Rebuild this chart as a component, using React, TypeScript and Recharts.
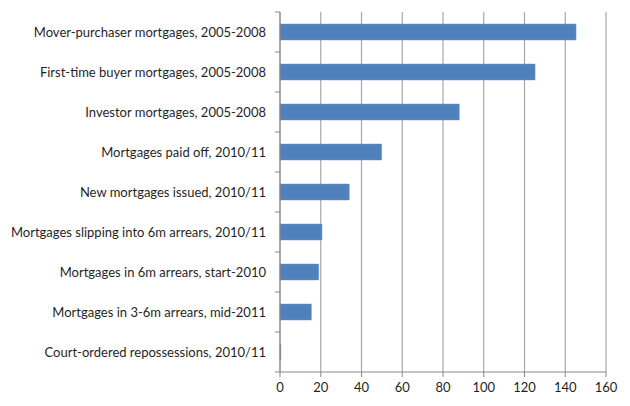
import { Bar, BarChart, CartesianGrid, XAxis, YAxis } from "recharts"

const categories = [
  "Mover-purchaser mortgages, 2005-2008",
  "First-time buyer mortgages, 2005-2008",
  "Investor mortgages, 2005-2008",
  "Mortgages paid off, 2010/11",
  "New mortgages issued, 2010/11",
  "Mortgages slipping into 6m arrears, 2010/11",
  "Mortgages in 6m arrears, start-2010",
  "Mortgages in 3-6m arrears, mid-2011",
  "Court-ordered repossessions, 2010/11",
]
const values = [145.3, 125.2, 88, 49.9, 34, 20.6, 19, 15.4, 0.4]
const xTicks = [0, 20, 40, 60, 80, 100, 120, 140, 160]

const data = categories.map((name, i) => ({ name, value: values[i] }))

const AXIS = "#868686"
const GRID = "#a6a6a6"
const TEXT = "#1f1f1f"
const FONT = "Lato, 'Liberation Sans', sans-serif"

// Excel puts the category ticks on the band edges, not the centres,
// so draw the label ourselves and a short tick half a band above it.
function CategoryTick(props: any) {
  const { x, y, payload, index } = props
  const half = 20
  const ax = x + 14
  return (
    <g>
      <line x1={ax - 5} x2={ax} y1={y - half} y2={y - half} stroke={AXIS} />
      {index === categories.length - 1 && (
        <line x1={ax - 5} x2={ax} y1={y + half} y2={y + half} stroke={AXIS} />
      )}
      <text
        x={x}
        y={y}
        dy={4.5}
        textAnchor="end"
        fill={TEXT}
        fontSize={13}
        fontFamily={FONT}
      >
        {payload.value}
      </text>
    </g>
  )
}

export default function App() {
  return (
    <div style={{ position: "fixed", left: 0, top: 0, background: "#fff" }}>
      <BarChart
        width={630}
        height={406}
        data={data}
        layout="vertical"
        margin={{ top: 12, right: 24, bottom: 4, left: 0 }}
        barCategoryGap="30%"
      >
        <CartesianGrid horizontal={false} stroke={GRID} strokeWidth={1.2} />
        <XAxis
          type="number"
          domain={[0, 160]}
          ticks={xTicks}
          interval={0}
          height={30}
          stroke={AXIS}
          tickSize={5}
          tickMargin={6}
          tick={{ fill: TEXT, fontSize: 13, fontFamily: FONT }}
        />
        <YAxis
          type="category"
          dataKey="name"
          width={280}
          stroke={AXIS}
          tickSize={0}
          tickMargin={14}
          interval={0}
          tick={<CategoryTick />}
        />
        <Bar
          dataKey="value"
          fill="#4F81BD"
          stroke="#6f9bd1"
          strokeWidth={0.5}
          isAnimationActive={false}
        />
      </BarChart>
    </div>
  )
}
